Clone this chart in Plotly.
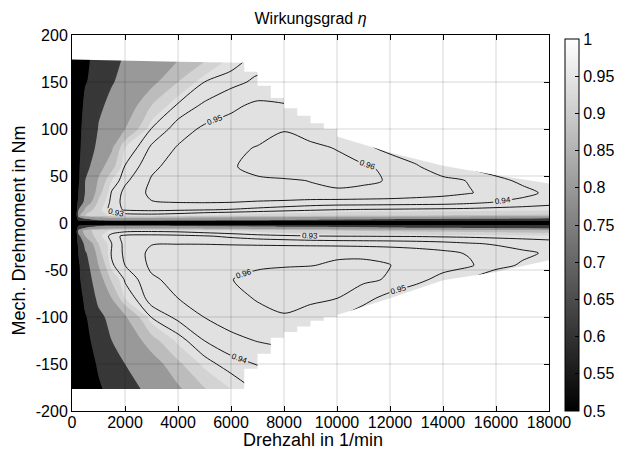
import plotly.graph_objects as go

# ---------------- data ----------------
speed_rpm = [0, 250, 500, 1000, 1500, 2000, 3000, 4000, 5000, 6000, 7000,
             8000, 9000, 10000, 11000, 12000, 13000, 14000, 15000, 16000, 17000, 18000]

torque_nm = [-180, -150, -125, -100, -80, -60, -45, -32, -22, -14, -8, -3, 0,
             3, 8, 14, 22, 32, 45, 60, 80, 100, 125, 150, 175]

# efficiency per torque row (values along speed_rpm)
eta_m180 = [0, 0.15, 0.35, 0.55, 0.68, 0.76, 0.82, 0.86, 0.895, 0.918, 0.930, 0.935, 0.937, 0.935, 0.930, 0.926, 0.922, 0.920, 0.918, 0.916, 0.914, 0.912]
eta_m150 = [0, 0.22, 0.43, 0.64, 0.74, 0.80, 0.85, 0.895, 0.925, 0.936, 0.9405, 0.944, 0.946, 0.945, 0.940, 0.935, 0.931, 0.928, 0.926, 0.924, 0.922, 0.920]
eta_m125 = [0, 0.30, 0.52, 0.72, 0.80, 0.835, 0.89, 0.925, 0.9402, 0.947, 0.9505, 0.952, 0.951, 0.947, 0.942, 0.937, 0.933, 0.930, 0.928, 0.926, 0.924, 0.922]
eta_m100 = [0, 0.35, 0.58, 0.77, 0.835, 0.865, 0.931, 0.943, 0.9502, 0.955, 0.958, 0.9595, 0.957, 0.951, 0.944, 0.938, 0.933, 0.930, 0.928, 0.926, 0.924, 0.922]
eta_m80 = [0, 0.45, 0.68, 0.83, 0.87, 0.92, 0.946, 0.950, 0.955, 0.958, 0.9605, 0.962, 0.9615, 0.9601, 0.9535, 0.946, 0.940, 0.936, 0.933, 0.930, 0.927, 0.924]
eta_m60 = [0, 0.55, 0.75, 0.85, 0.905, 0.932, 0.9485, 0.953, 0.957, 0.9598, 0.962, 0.963, 0.9635, 0.9632, 0.962, 0.959, 0.9535, 0.946, 0.939, 0.934, 0.928, 0.922]
eta_m45 = [0, 0.57, 0.77, 0.87, 0.928, 0.940, 0.952, 0.955, 0.957, 0.958, 0.959, 0.9595, 0.9598, 0.9608, 0.9615, 0.9602, 0.957, 0.9545, 0.9515, 0.9425, 0.939, 0.933]
eta_m32 = [0, 0.62, 0.79, 0.89, 0.932, 0.942, 0.9525, 0.955, 0.956, 0.957, 0.9575, 0.958, 0.9585, 0.959, 0.9585, 0.957, 0.955, 0.9525, 0.949, 0.945, 0.9415, 0.939]
eta_m22 = [0, 0.70, 0.83, 0.90, 0.93, 0.943, 0.9495, 0.9497, 0.9496, 0.949, 0.9485, 0.948, 0.9475, 0.947, 0.9465, 0.946, 0.945, 0.9435, 0.941, 0.939, 0.937, 0.935]
eta_m14 = [0, 0.78, 0.87, 0.915, 0.935, 0.943, 0.944, 0.943, 0.941, 0.938, 0.935, 0.933, 0.931, 0.930, 0.9298, 0.9295, 0.9292, 0.9285, 0.928, 0.927, 0.926, 0.925]
eta_m8 = [0, 0.84, 0.89, 0.91, 0.923, 0.926, 0.927, 0.926, 0.923, 0.920, 0.915, 0.910, 0.905, 0.900, 0.897, 0.895, 0.893, 0.891, 0.889, 0.887, 0.885, 0.883]
eta_m3 = [0, 0.62, 0.74, 0.79, 0.80, 0.80, 0.80, 0.795, 0.79, 0.785, 0.78, 0.775, 0.77, 0.765, 0.76, 0.75, 0.74, 0.73, 0.72, 0.715, 0.71, 0.70]
eta_0 = [0, 0, 0, 0, 0, 0, 0, 0, 0, 0, 0, 0, 0, 0, 0, 0, 0, 0, 0, 0, 0, 0]
eta_p3 = [0, 0.66, 0.76, 0.80, 0.82, 0.82, 0.82, 0.815, 0.81, 0.805, 0.80, 0.795, 0.79, 0.785, 0.78, 0.775, 0.77, 0.765, 0.76, 0.755, 0.75, 0.74]
eta_p8 = [0, 0.86, 0.90, 0.915, 0.922, 0.925, 0.926, 0.924, 0.920, 0.917, 0.914, 0.911, 0.908, 0.905, 0.903, 0.901, 0.900, 0.899, 0.898, 0.897, 0.896, 0.895]
eta_p14 = [0, 0.80, 0.88, 0.915, 0.936, 0.941, 0.9425, 0.9415, 0.9403, 0.9392, 0.937, 0.9345, 0.932, 0.9297, 0.929, 0.9285, 0.928, 0.9275, 0.927, 0.926, 0.925, 0.924]
eta_p22 = [0, 0.70, 0.84, 0.905, 0.935, 0.943, 0.9495, 0.9502, 0.9505, 0.950, 0.949, 0.948, 0.9465, 0.946, 0.9458, 0.9455, 0.945, 0.9445, 0.9425, 0.9395, 0.937, 0.934]
eta_p32 = [0, 0.62, 0.81, 0.89, 0.932, 0.943, 0.952, 0.954, 0.955, 0.956, 0.957, 0.958, 0.9585, 0.959, 0.958, 0.957, 0.955, 0.953, 0.9505, 0.947, 0.943, 0.938]
eta_p45 = [0, 0.58, 0.80, 0.875, 0.92, 0.938, 0.951, 0.955, 0.957, 0.958, 0.9585, 0.959, 0.9602, 0.9615, 0.9612, 0.9595, 0.955, 0.9525, 0.9495, 0.943, 0.938, 0.932]
eta_p60 = [0, 0.57, 0.77, 0.855, 0.89, 0.931, 0.948, 0.954, 0.957, 0.959, 0.963, 0.9655, 0.965, 0.963, 0.9612, 0.958, 0.951, 0.944, 0.938, 0.934, 0.930, 0.926]
eta_p80 = [0, 0.55, 0.72, 0.83, 0.865, 0.92, 0.942, 0.951, 0.955, 0.958, 0.9605, 0.963, 0.962, 0.9595, 0.953, 0.946, 0.943, 0.940, 0.937, 0.934, 0.931, 0.928]
eta_p100 = [0, 0.53, 0.70, 0.805, 0.84, 0.87, 0.931, 0.945, 0.952, 0.954, 0.956, 0.9595, 0.956, 0.953, 0.945, 0.940, 0.936, 0.933, 0.931, 0.929, 0.927, 0.925]
eta_p125 = [0, 0.45, 0.68, 0.785, 0.82, 0.845, 0.90, 0.933, 0.942, 0.948, 0.952, 0.951, 0.948, 0.940, 0.936, 0.933, 0.930, 0.928, 0.926, 0.924, 0.922, 0.920]
eta_p150 = [0, 0.35, 0.585, 0.70, 0.795, 0.82, 0.86, 0.90, 0.93, 0.937, 0.942, 0.940, 0.938, 0.935, 0.932, 0.930, 0.928, 0.926, 0.924, 0.922, 0.920, 0.918]
eta_p175 = [0, 0.30, 0.56, 0.67, 0.77, 0.81, 0.84, 0.868, 0.895, 0.922, 0.935, 0.930, 0.925, 0.920, 0.915, 0.910, 0.905, 0.900, 0.895, 0.890, 0.885, 0.880]

# operating limits (torque limit over speed)
limit_up_speed = [0, 4000, 6500, 6500, 7000, 7000, 7500, 7500, 8000, 8000, 8500, 8500,
                  9000, 9000, 9500, 9500, 10000, 10000, 12000, 14000, 16000, 18000]
limit_up_torque = [174, 171.5, 170.5, 161, 161, 146, 146, 133, 133, 122, 122, 114,
                   114, 106, 106, 100, 100, 92, 75, 61, 51, 42]
limit_dn_speed = [0, 6500, 6500, 7000, 7000, 7500, 7500, 8000, 8000, 8500, 8500,
                  9000, 9000, 9500, 9500, 10000, 10000, 12000, 14000, 16000, 18000]
limit_dn_torque = [-176.5, -176.5, -155, -155, -139, -139, -122, -122, -116, -116, -110,
                   -110, -104, -104, -100, -100, -98, -80, -61, -52, -39.5]

line_levels = [0.93, 0.94, 0.95, 0.96]

# filled band edges and their greys
band_edges = [0.6, 0.8, 0.87, 0.9, 0.92]
band_colors = ['#000000', '#383838', '#999999', '#bcbcbc', '#d3d3d3', '#e1e1e1']

x_ticks = [0, 2000, 4000, 6000, 8000, 10000, 12000, 14000, 16000, 18000]
y_ticks = [-200, -150, -100, -50, 0, 50, 100, 150, 200]
cb_ticks = [0.5, 0.55, 0.6, 0.65, 0.7, 0.75, 0.8, 0.85, 0.9, 0.95, 1.0]
cb_labels = ['0.5', '0.55', '0.6', '0.65', '0.7', '0.75', '0.8', '0.85', '0.9', '0.95', '1']

# ---------------- figure ----------------
eta_rows = [eta_m180, eta_m150, eta_m125, eta_m100, eta_m80, eta_m60, eta_m45,
            eta_m32, eta_m22, eta_m14, eta_m8, eta_m3, eta_0, eta_p3, eta_p8,
            eta_p14, eta_p22, eta_p32, eta_p45, eta_p60, eta_p80, eta_p100,
            eta_p125, eta_p150, eta_p175]

f_start, f_end, f_size = 0.01, 0.99, 0.01
lo = f_start - f_size / 2
span = (f_end + f_size / 2) - lo
fill_scale = [[0, band_colors[0]]]
for i, e in enumerate(band_edges):
    s = (e - lo) / span
    fill_scale.append([s - 1e-4, band_colors[i]])
    fill_scale.append([s + 1e-4, band_colors[i + 1]])
fill_scale.append([1, band_colors[-1]])

FONT = 'Liberation Sans, Arial, Helvetica, sans-serif'

fig = go.Figure()
fig.add_trace(go.Contour(
    x=speed_rpm, y=torque_nm, z=eta_rows,
    autocontour=False,
    contours=dict(coloring='fill', start=f_start, end=f_end, size=f_size, showlines=False),
    colorscale=fill_scale, showscale=False,
    line=dict(width=0, smoothing=0.8),
    hoverinfo='skip'))

fig.add_trace(go.Contour(
    x=speed_rpm, y=torque_nm, z=eta_rows,
    autocontour=False,
    contours=dict(coloring='none', start=line_levels[0], end=line_levels[-1] + 1e-4,
                  size=0.01, showlabels=True,
                  labelfont=dict(size=8, color='black', family=FONT),
                  labelformat='.2f'),
    line=dict(color='black', width=0.9, smoothing=0.8),
    showscale=False, hoverinfo='skip'))

# areas outside the operating range are white
fig.add_trace(go.Scatter(
    x=[0] + limit_up_speed + [18000, 0],
    y=[200] + limit_up_torque + [200, 200],
    mode='lines', fill='toself', fillcolor='white',
    line=dict(width=0, color='white'), hoverinfo='skip'))
fig.add_trace(go.Scatter(
    x=[0] + limit_dn_speed + [18000, 0],
    y=[-200] + limit_dn_torque + [-200, -200],
    mode='lines', fill='toself', fillcolor='white',
    line=dict(width=0, color='white'), hoverinfo='skip'))

# colour bar (continuous grey map)
fig.add_trace(go.Scatter(
    x=[None], y=[None], mode='markers', hoverinfo='skip',
    marker=dict(color=[0.5], cmin=0.5, cmax=1.0,
                colorscale=[[0, 'black'], [1, 'white']], showscale=True,
                colorbar=dict(x=1.0335, xanchor='left', y=0, yanchor='bottom',
                              len=0.99, lenmode='fraction', thickness=14,
                              thicknessmode='pixels', outlinewidth=1,
                              outlinecolor='black', ticks='inside', ticklen=4,
                              tickcolor='black', tickvals=cb_ticks,
                              ticktext=cb_labels, tickfont=dict(size=16, family=FONT),
                              xpad=0, ypad=0))))

grid_color = 'rgba(0,0,0,0.16)'
shapes = []
for xv in x_ticks[1:-1]:
    shapes.append(dict(type='line', xref='x', yref='y', x0=xv, x1=xv, y0=-200, y1=200,
                       line=dict(color=grid_color, width=1), layer='above'))
for yv in y_ticks[1:-1]:
    shapes.append(dict(type='line', xref='x', yref='y', x0=0, x1=18000, y0=yv, y1=yv,
                       line=dict(color=grid_color, width=1), layer='above'))

axis_common = dict(ticks='inside', ticklen=5, tickcolor='black', showline=True,
                   linecolor='black', linewidth=1, mirror='ticks', showgrid=False,
                   zeroline=False, layer='above traces', automargin=False,
                   tickfont=dict(size=16, family=FONT, color='black'))

fig.update_layout(
    template='none',
    width=623, height=449,
    margin=dict(l=72, r=74, t=35, b=38, autoexpand=False),
    paper_bgcolor='white', plot_bgcolor='white',
    font=dict(family=FONT, size=16, color='black'),
    showlegend=False,
    title=dict(text='Wirkungsgrad <i>η</i>', x=0.5, xref='paper', xanchor='center',
               y=0.958, yanchor='middle', font=dict(size=16, family=FONT)),
    xaxis=dict(range=[0, 18000], tickvals=x_ticks, ticktext=[str(v) for v in x_ticks],
               ticklabelstandoff=-3, **axis_common),
    yaxis=dict(range=[-200, 200], tickvals=y_ticks, ticktext=[str(v) for v in y_ticks],
               **axis_common),
    shapes=shapes,
    annotations=[
        dict(text='Drehzahl in 1/min', x=0.505, y=-0.077, xref='paper', yref='paper',
             showarrow=False, xanchor='center', yanchor='middle',
             font=dict(size=18, family=FONT)),
        dict(text='Mech. Drehmoment in Nm', x=-0.113, y=0.48, xref='paper', yref='paper',
             showarrow=False, textangle=-90, xanchor='center', yanchor='middle',
             font=dict(size=18, family=FONT)),
    ],
)

fig.write_html('out.html', config={'displayModeBar': False},
               post_script="document.body.style.margin='0px';")
